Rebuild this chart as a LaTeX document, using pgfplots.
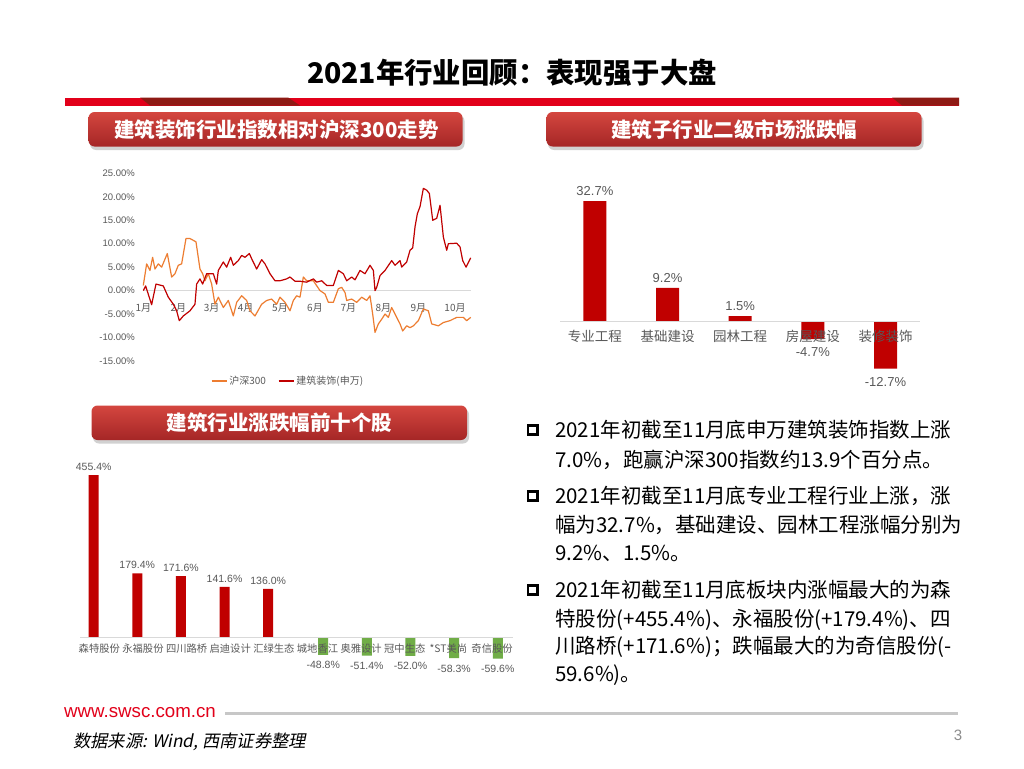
\documentclass[border=0pt]{standalone}
\usepackage{pgfplots}
\pgfplotsset{compat=1.18}
\usepackage{fontspec}
\setmainfont{Liberation Sans}
\newfontfamily\cjk{Noto Sans CJK SC}
\newfontfamily\cjkit{Noto Sans CJK SC}[FakeSlant=0.2]

\definecolor{swred}{HTML}{E2001A}
\definecolor{swdark}{HTML}{8E1A14}
\definecolor{boxtop}{HTML}{D4463F}
\definecolor{boxbot}{HTML}{A52626}
\definecolor{barred}{HTML}{C00000}
\definecolor{bargreen}{HTML}{70AD47}
\definecolor{lineorange}{HTML}{ED7D31}
\definecolor{labelgray}{HTML}{595959}
\definecolor{axisgray}{HTML}{D9D9D9}

\pgfplotsset{/pgf/number format/assume math mode=true}

\begin{document}
\begin{tikzpicture}
\useasboundingbox (0pt,0pt) rectangle (1024pt,-768pt);
\fill[white] (0pt,0pt) rectangle (1024pt,-768pt);

% ---- header, boxes, footer (pixel coordinates, y downwards)
\begin{scope}[x=1pt,y=-1pt]
  \node[font=\cjk\bfseries\fontsize{28.4}{28.4}\selectfont] at (512,73) {2021年行业回顾：表现强于大盘};
  \fill[swred] (65,97.5) rectangle (959,105.5);
  \fill[swdark] (140,97.5) -- (288,97.5) -- (300,105.5) -- (150,105.5) -- cycle;
  \fill[swdark] (892,97.5) -- (959,97.5) -- (959,105.5) -- (902,105.5) -- cycle;

  % subtitle boxes
  \foreach \xa/\ya/\xb/\yb in {88.5/112/462.5/146.5, 546.5/112/921.5/146.5, 91.5/405.5/467/440}{
    \fill[black!18, rounded corners=6pt] (\xa+1.5,\ya+3) rectangle (\xb+2,\yb+3.5);
    \shade[top color=boxtop, bottom color=boxbot, rounded corners=6pt] (\xa,\ya) rectangle (\xb,\yb);
  }
  \node[text=white, font=\cjk\bfseries\fontsize{20.5}{20.5}\selectfont] at (276.5,129.5) {建筑装饰行业指数相对沪深300走势};
  \node[text=white, font=\cjk\bfseries\fontsize{20.5}{20.5}\selectfont] at (734,129.5) {建筑子行业二级市场涨跌幅};
  \node[text=white, font=\cjk\bfseries\fontsize{20.5}{20.5}\selectfont] at (279.3,423) {建筑行业涨跌幅前十个股};

  % bullet text
  \foreach \yy in {430,496,590}{
    \draw[line width=2.6pt] (528,\yy-4.6) rectangle (537.2,\yy+4.6);
  }
  \begin{scope}[every node/.style={anchor=west, inner sep=0pt, font=\cjk\fontsize{20.5}{20.5}\selectfont}]
    \node at (555,430) {2021年初截至11月底申万建筑装饰指数上涨};
    \node at (555,459.5) {7.0\%，跑赢沪深300指数约13.9个百分点。};
    \node at (555,496) {2021年初截至11月底专业工程行业上涨，涨};
    \node at (555,525) {幅为32.7\%，基础建设、园林工程涨幅分别为};
    \node at (555,553.5) {9.2\%、1.5\%。};
    \node at (555,590) {2021年初截至11月底板块内涨幅最大的为森};
    \node at (555,619.5) {特股份(+455.4\%)、永福股份(+179.4\%)、四};
    \node at (555,647) {川路桥(+171.6\%)；跌幅最大的为奇信股份(-};
    \node at (555,675) {59.6\%)。};
  \end{scope}

  % footer
  \node[anchor=west, inner sep=0pt, text=swred, font=\fontsize{18.7}{18.7}\selectfont] at (64,713) {www.swsc.com.cn};
  \fill[black!22] (225,711.5) rectangle (958,714.5);
  \node[anchor=west, inner sep=0pt, font=\cjkit\fontsize{17.3}{17.3}\selectfont] at (73,742) {数据来源: Wind, 西南证券整理};
  \node[text=black!45, font=\fontsize{15}{15}\selectfont] at (958,735) {3};
\end{scope}

% ---- chart 1: index vs CSI 300
\begin{axis}[
  at={(143.3pt,-361pt)}, anchor=south west,
  scale only axis, width=327.4pt, height=187.7pt,
  xmin=0, xmax=982, ymin=-15, ymax=25,
  axis x line=middle, axis y line=left,
  axis line style={-},
  x axis line style={draw=axisgray, line width=0.8pt},
  y axis line style={draw=none},
  hide obscured x ticks=false, hide obscured y ticks=false,
  major tick length=0pt,
  xtick={0,105,205,307,410,515,615,720,825,935},
  xticklabels={1月,2月,3月,4月,5月,6月,7月,8月,9月,10月},
  ytick={-15,-10,-5,0,5,10,15,20,25},
  yticklabels={-15.00\%,-10.00\%,-5.00\%,0.00\%,5.00\%,10.00\%,15.00\%,20.00\%,25.00\%},
  tick label style={text=labelgray},
  xticklabel style={font=\cjk\fontsize{10}{10}\selectfont, yshift=-9pt},
  yticklabel style={font=\fontsize{9.5}{9.5}\selectfont, xshift=-5pt},
  legend style={at={(axis description cs:0.442,-0.107)}, anchor=center, draw=none, fill=none,
    legend columns=2, font=\cjk\fontsize{10}{10}\selectfont, text=labelgray,
    /tikz/every even column/.append style={column sep=10pt}},
  legend image code/.code={\draw[#1, line width=1.5pt] (0pt,0pt) -- (15pt,0pt);},
  clip=false,
]
\addplot[lineorange, line width=1.2pt, line join=round] coordinates {
(0,1.1) (10,5.7) (20,4.3) (28,7.1) (35,4.6) (45,5.7) (55,5.0) (72,7.9) (85,2.9) (95,3.6)
(105,5.4) (115,5.7) (128,11.1) (140,11.1) (158,10.4) (170,4.6) (178,3.6) (185,2.1) (195,3.6)
(205,1.4) (215,-2.9) (225,-1.4) (240,-3.6) (255,-2.1) (270,-5.4) (280,-2.5) (295,-1.1)
(310,-2.1) (320,-4.3) (335,-5.4) (355,-2.9) (370,-2.1) (385,-1.8) (400,-2.9) (410,-1.4)
(425,-2.5) (440,-4.3) (450,-2.1) (460,-1.1) (470,-1.4) (480,2.9) (490,2.1) (510,2.1)
(530,0) (545,-0.7) (555,-2.5) (570,-2.5) (585,0.4) (595,0.7) (605,-0.4) (610,-2.1)
(625,-1.8) (640,-2.5) (655,-1.4) (670,-2.1) (680,-1.1) (688,-5.0) (695,-8.9) (705,-7.1)
(715,-6.1) (725,-5.0) (735,-5.7) (745,-3.6) (760,-5.7) (770,-7.1) (778,-8.6) (790,-7.5)
(800,-7.9) (810,-7.5) (825,-6.4) (840,-3.9) (855,-4.3) (865,-7.1) (885,-7.5) (900,-6.8)
(920,-6.4) (940,-5.7) (960,-5.7) (970,-6.4) (982,-5.7)
};
\addlegendentry{沪深300}
\addplot[barred, line width=1.2pt, line join=round] coordinates {
(0,0) (7,1.0) (25,-3.0) (38,1.4) (60,1.0) (75,-1.4) (90,-2.9) (100,-4.3) (108,-6.4)
(120,-5.4) (140,-4.3) (155,-2.9) (160,1.4) (170,2.5) (178,1.4) (190,3.6) (210,3.6)
(220,1.4) (225,4.3) (240,6.1) (250,5.0) (262,7.1) (270,5.4) (285,6.4) (295,7.5) (305,7.1)
(318,7.9) (325,6.8) (340,4.6) (355,6.6) (365,5.7) (380,3.6) (395,2.1) (410,2.1) (430,2.5)
(440,2.9) (455,2.0) (470,2.0) (490,1.8) (510,2.5) (520,1.8) (535,2.1) (550,1.1) (570,1.1)
(585,4.3) (600,3.6) (610,2.1) (625,2.9) (635,2.3) (650,4.3) (665,3.6) (680,5.4) (690,4.3)
(695,0) (700,0.7) (710,3.2) (725,4.3) (745,6.4) (755,5.4) (770,6.4) (775,5.0) (790,6.1)
(800,8.6) (808,9.1) (815,13.6) (822,16.4) (830,17.9) (840,21.8) (850,21.4) (858,20.7)
(868,15.0) (880,15.4) (890,18.2) (900,11.4) (910,8.6) (915,10.0) (940,10.1) (950,9.3)
(958,6.4) (968,5.0) (982,7.0)
};
\addlegendentry{建筑装饰(申万)}
\end{axis}

% ---- chart 2: sub-industries
\begin{axis}[
  at={(560pt,-377.05pt)}, anchor=south west,
  scale only axis, width=360pt, height=184.5pt,
  xmin=-0.48, xmax=4.475, ymin=-15, ymax=35,
  axis x line=middle, axis y line=left,
  axis line style={-},
  x axis line style={draw=axisgray, line width=0.8pt},
  y axis line style={draw=none},
  hide obscured x ticks=false,
  major tick length=0pt, ytick=\empty,
  xtick={0,1,2,3,4},
  xticklabels={专业工程,基础建设,园林工程,房屋建设,装修装饰},
  xticklabel style={font=\cjk\fontsize{13.5}{13.5}\selectfont, text=labelgray, yshift=-5pt},
  ybar, bar width=23pt, bar shift=0pt,
  point meta=explicit symbolic,
  nodes near coords,
  nodes near coords style={font=\fontsize{13}{13}\selectfont, text=labelgray},
  axis on top, clip=false,
]
\addplot[fill=barred, draw=none, nodes near coords style={anchor=south, yshift=2pt}] coordinates {
(0,32.7) [32.7\%] (1,9.2) [9.2\%] (2,1.5) [1.5\%]
};
\addplot[fill=barred, draw=none, nodes near coords style={anchor=north, yshift=-5pt}] coordinates {
(3,-4.7) [-4.7\%] (4,-12.7) [-12.7\%]
};
\end{axis}

% ---- chart 3: top ten stocks
\begin{axis}[
  at={(80pt,-662.3pt)}, anchor=south west,
  scale only axis, width=433pt, height=192.5pt,
  xmin=-0.443, xmax=9.48, ymin=-70, ymax=470,
  axis x line=middle, axis y line=left,
  axis line style={-},
  x axis line style={draw=axisgray, line width=0.8pt},
  y axis line style={draw=none},
  hide obscured x ticks=false,
  major tick length=0pt, ytick=\empty,
  xtick={0,...,9},
  xticklabels={森特股份,永福股份,四川路桥,启迪设计,汇绿生态,城地香江,奥雅设计,冠中生态,*ST美尚,奇信股份},
  xticklabel style={font=\cjk\fontsize{10.3}{10.3}\selectfont, text=labelgray, yshift=-3pt, inner xsep=0pt},
  ybar=1.4pt, bar width=10pt,
  point meta=explicit symbolic,
  nodes near coords,
  nodes near coords style={font=\fontsize{10.5}{10.5}\selectfont, text=labelgray},
  axis on top, clip=false,
]
\addplot[fill=barred, draw=none, nodes near coords style={anchor=south, yshift=1pt}] coordinates {
(0,455.4) [455.4\%] (1,179.4) [179.4\%] (2,171.6) [171.6\%] (3,141.6) [141.6\%] (4,136.0) [136.0\%]
};
\addplot[fill=bargreen, draw=none, nodes near coords style={anchor=north, yshift=-3pt}] coordinates {
(5,-48.8) [-48.8\%] (6,-51.4) [-51.4\%] (7,-52.0) [-52.0\%] (8,-58.3) [-58.3\%] (9,-59.6) [-59.6\%]
};
\end{axis}
\end{tikzpicture}
\end{document}
